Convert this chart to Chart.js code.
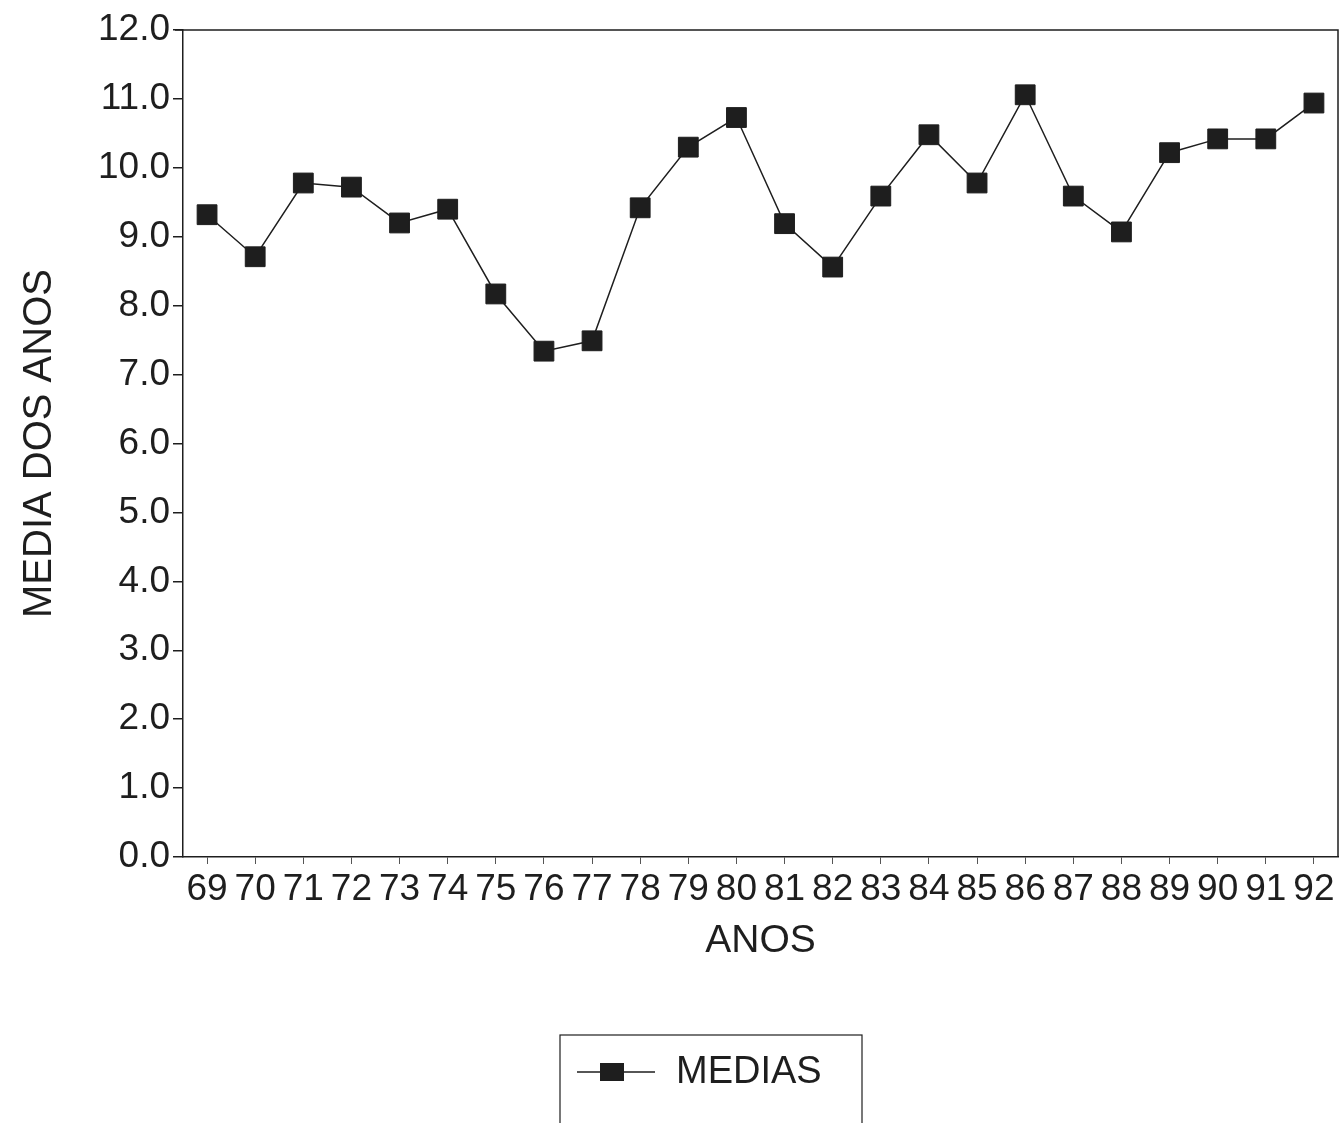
<!DOCTYPE html>
<html>
<head>
<meta charset="utf-8">
<title>Medias dos anos</title>
<script src="https://cdn.jsdelivr.net/npm/chart.js@4/dist/chart.umd.min.js"></script>
<style>
    body { margin: 0; background: #fff; }
    #wrap { width: 1340px; height: 1123px; }
</style>
</head>
<body>
<div id="wrap"><canvas id="mediaChart" width="1340" height="1123"></canvas></div>
<script>
// ==========================================
// Data
// ==========================================
const anos = ['69', '70', '71', '72', '73', '74', '75', '76', '77', '78', '79', '80',
              '81', '82', '83', '84', '85', '86', '87', '88', '89', '90', '91', '92'];
const medias = [9.32, 8.71, 9.78, 9.72, 9.2, 9.4, 8.17, 7.34, 7.49, 9.42, 10.3, 10.73,
                9.19, 8.56, 9.59, 10.48, 9.78, 11.06, 9.59, 9.07, 10.22, 10.42, 10.42, 10.94];
const yMin = 0;
const yMax = 12;
const yStep = 1;
const serieNome = 'MEDIAS';
const tituloX = 'ANOS';
const tituloY = 'MEDIA DOS ANOS';

const ink = '#1e1e1e';
const fontFamily = '"Liberation Sans", Arial, Helvetica, sans-serif';

// ==========================================
// Frame (top / right) + boxed legend
// ==========================================
const framePlugin = {
    id: 'frameAndLegend',
    afterDraw(chart) {
        const ctx = chart.ctx;
        const a = chart.chartArea;
        ctx.save();
        ctx.strokeStyle = ink;
        ctx.lineWidth = 1.5;
        ctx.beginPath();
        ctx.moveTo(a.left - 8, a.top);
        ctx.lineTo(a.right, a.top);
        ctx.lineTo(a.right, a.bottom);
        ctx.stroke();

        // legend box, cut at the bottom like the scan
        ctx.lineWidth = 1.2;
        ctx.strokeRect(560, 1035, 302, 120);
        const ly = 1072;
        ctx.lineWidth = 1.5;
        ctx.beginPath();
        ctx.moveTo(577, ly);
        ctx.lineTo(655, ly);
        ctx.stroke();
        ctx.fillStyle = ink;
        ctx.fillRect(600, ly - 9, 24, 18);
        ctx.font = '38px ' + fontFamily;
        ctx.textBaseline = 'middle';
        ctx.textAlign = 'left';
        ctx.fillText(serieNome, 676, ly + 1);
        ctx.restore();
    }
};

new Chart(document.getElementById('mediaChart'), {
    type: 'line',
    data: {
        labels: anos,
        datasets: [{
            label: serieNome,
            data: medias,
            borderColor: ink,
            borderWidth: 1.5,
            backgroundColor: ink,
            pointStyle: 'rect',
            pointRadius: 14,
            pointBackgroundColor: ink,
            pointBorderColor: ink,
            pointBorderWidth: 1,
            tension: 0,
            fill: false
        }]
    },
    options: {
        responsive: false,
        animation: false,
        events: [],
        layout: {
            autoPadding: false,
            padding: { top: 30, right: 2, bottom: 146, left: 0 }
        },
        plugins: {
            legend: { display: false },
            tooltip: { enabled: false }
        },
        scales: {
            x: {
                offset: true,
                grid: {
                    drawOnChartArea: false,
                    tickLength: 7,
                    color: '#555',
                    lineWidth: 1
                },
                border: { display: true, color: ink, width: 1.5 },
                ticks: {
                    autoSkip: false,
                    maxRotation: 0,
                    padding: 4,
                    color: ink,
                    font: { family: fontFamily, size: 37 }
                },
                title: {
                    display: true,
                    text: tituloX,
                    color: ink,
                    padding: { top: 12, bottom: 12 },
                    font: { family: fontFamily, size: 39 }
                },
                afterFit(scale) {
                    scale.height = 120;
                    scale.paddingLeft = 0;
                    scale.paddingRight = 0;
                }
            },
            y: {
                min: yMin,
                max: yMax,
                grid: {
                    drawOnChartArea: false,
                    tickLength: 10,
                    color: ink,
                    lineWidth: 1.5
                },
                border: { display: true, color: ink, width: 1.5 },
                ticks: {
                    stepSize: yStep,
                    padding: 3,
                    color: ink,
                    font: { family: fontFamily, size: 37 },
                    callback: function(value) { return value.toFixed(1); }
                },
                title: {
                    display: true,
                    text: tituloY,
                    color: ink,
                    padding: { top: 16, bottom: 16 },
                    font: { family: fontFamily, size: 40 }
                },
                afterFit(scale) {
                    scale.width = 183;
                    scale.paddingTop = 0;
                    scale.paddingBottom = 0;
                }
            }
        }
    },
    plugins: [framePlugin]
});
</script>
</body>
</html>
